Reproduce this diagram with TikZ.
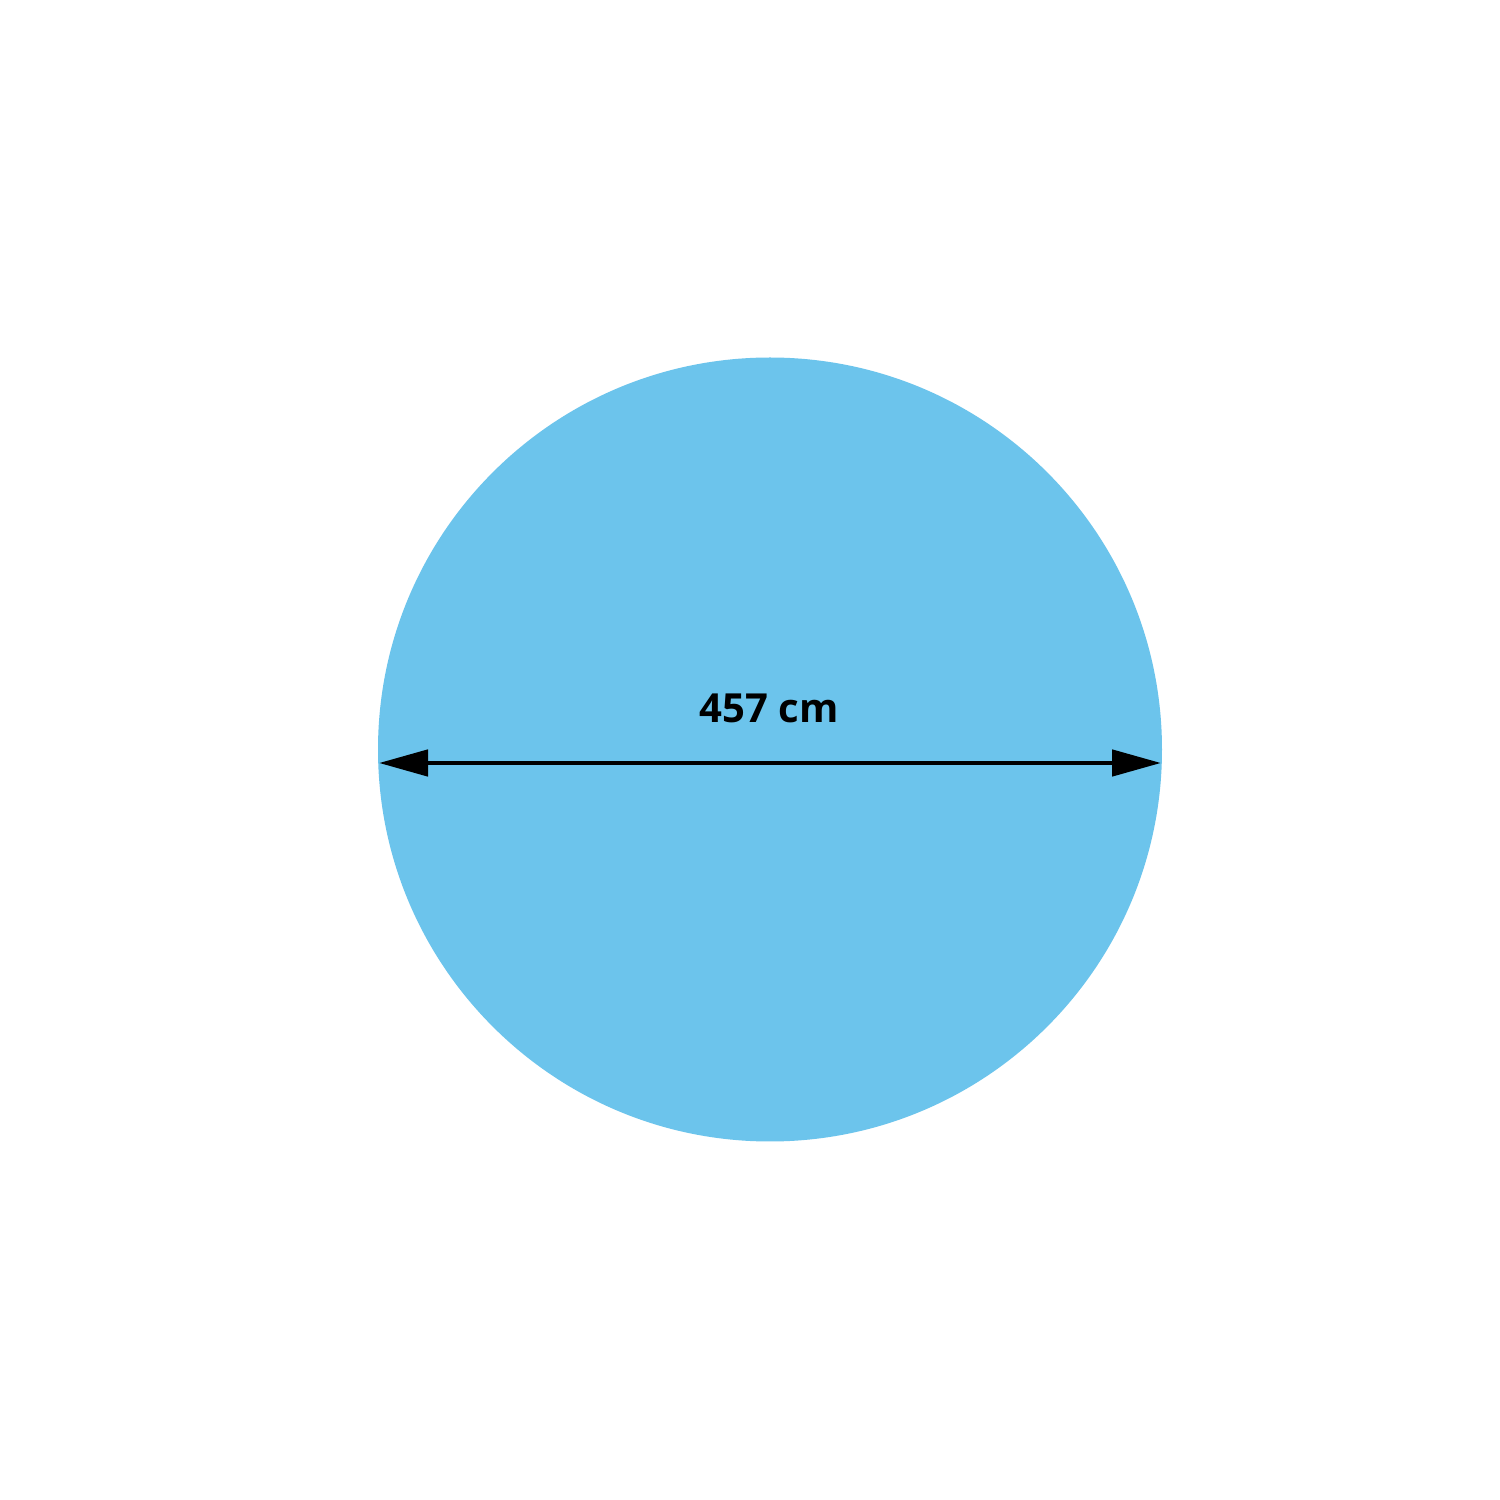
\documentclass[tikz,border=0pt]{standalone}
\usepackage{fontspec}
\setmainfont{Open Sans}
\usetikzlibrary{arrows.meta}
\definecolor{poolblue}{RGB}{108,196,236}
\tikzset{
  pool/.style={circle, fill=poolblue, draw=none, inner sep=0pt, minimum size=7.84cm},
  dimline/.style={line width=1.35pt, black, {Triangle[length=0.49cm,width=0.26cm]}-{Triangle[length=0.49cm,width=0.26cm]}},
  dimlabel/.style={font=\fontsize{11.4pt}{13pt}\selectfont\bfseries, anchor=base, inner sep=0pt}
}
\begin{document}
\begin{tikzpicture}
\useasboundingbox (0,0) rectangle (15,15);
\fill[white] (0,0) rectangle (15,15);
\node[pool] (pool) at (7.70,7.505) {};
\coordinate (L) at (3.79,7.37);
\coordinate (R) at (11.61,7.37);
\draw[dimline] (L) -- (R);
\node[dimlabel] (lab) at (7.69,7.77) {457 cm};
\end{tikzpicture}
\end{document}
